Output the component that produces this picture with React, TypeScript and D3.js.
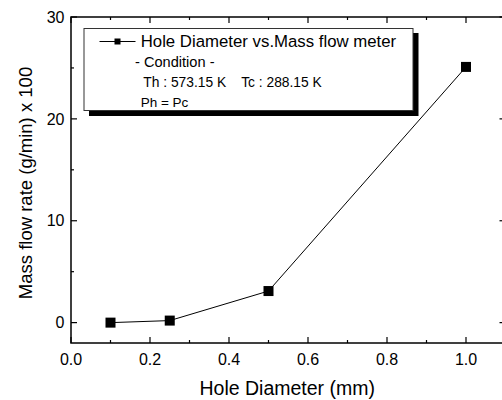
import React from "react";
import * as d3 from "d3";

// Measured data: hole diameter (mm) vs mass flow rate (g/min x 100)
const holeDiameter = [0.1, 0.25, 0.5, 1.0];
const massFlow = [0.0, 0.2, 3.1, 25.1];

const xMajorTicks = [0.0, 0.2, 0.4, 0.6, 0.8, 1.0];
const xMinorTicks = [0.1, 0.3, 0.5, 0.7, 0.9];
const yMajorTicks = [0, 10, 20, 30];
const yMinorTicks = [5, 15, 25];

const seriesLabel = "Hole Diameter vs.Mass flow meter";
const conditionLines = ["- Condition -", "Th : 573.15 K    Tc : 288.15 K", "Ph = Pc"];
const xTitle = "Hole Diameter (mm)";
const yTitle = "Mass flow rate (g/min) x 100";

const W = 502;
const H = 400;
const FONT = "'Liberation Sans', Arial, Helvetica, sans-serif";

export default function App() {
  const x = d3.scaleLinear().domain([0, 1.1]).range([71, 505.5]);
  const y = d3.scaleLinear().domain([-2, 30]).range([343, 17]);
  const [x0, x1] = x.range();
  const [yb, yt] = y.range();

  const line = d3
    .line<number>()
    .x((_, i) => x(holeDiameter[i]))
    .y((d) => y(d));

  const major = 6;
  const minor = 3;
  const ms = 10;

  return (
    <svg
      width={W}
      height={H}
      style={{ position: "absolute", left: 0, top: 0, background: "#fff" }}
      fontFamily={FONT}
    >
      <rect x={0} y={0} width={W} height={H} fill="#fff" />

      {/* frame */}
      <rect
        x={x0}
        y={yt}
        width={x1 - x0}
        height={yb - yt}
        fill="none"
        stroke="#000"
        strokeWidth={1.5}
      />

      {/* bottom & top ticks (inward) */}
      {xMajorTicks.map((t) => (
        <g key={"xM" + t}>
          <line x1={x(t)} x2={x(t)} y1={yb} y2={yb - major} stroke="#000" strokeWidth={1.2} />
          <line x1={x(t)} x2={x(t)} y1={yt} y2={yt + major} stroke="#000" strokeWidth={1.2} />
          <text x={x(t)} y={365} fontSize={16} textAnchor="middle" fill="#000">
            {d3.format(".1f")(t)}
          </text>
        </g>
      ))}
      {xMinorTicks.map((t) => (
        <g key={"xm" + t}>
          <line x1={x(t)} x2={x(t)} y1={yb} y2={yb - minor} stroke="#000" strokeWidth={1.2} />
          <line x1={x(t)} x2={x(t)} y1={yt} y2={yt + minor} stroke="#000" strokeWidth={1.2} />
        </g>
      ))}

      {/* left & right ticks (inward) */}
      {yMajorTicks.map((t) => (
        <g key={"yM" + t}>
          <line x1={x0} x2={x0 + major} y1={y(t)} y2={y(t)} stroke="#000" strokeWidth={1.2} />
          <line x1={x1} x2={x1 - major} y1={y(t)} y2={y(t)} stroke="#000" strokeWidth={1.2} />
          <text x={64.5} y={y(t) + 5.7} fontSize={16} textAnchor="end" fill="#000">
            {t}
          </text>
        </g>
      ))}
      {yMinorTicks.map((t) => (
        <g key={"ym" + t}>
          <line x1={x0} x2={x0 + minor} y1={y(t)} y2={y(t)} stroke="#000" strokeWidth={1.2} />
          <line x1={x1} x2={x1 - minor} y1={y(t)} y2={y(t)} stroke="#000" strokeWidth={1.2} />
        </g>
      ))}

      {/* axis titles */}
      <text x={(x0 + x1) / 2 - 1} y={395} fontSize={19.5} textAnchor="middle" fill="#000">
        {xTitle}
      </text>
      <text
        transform={`translate(32, ${(yb + yt) / 2 + 3}) rotate(-90)`}
        fontSize={18.5}
        textAnchor="middle"
        fill="#000"
      >
        {yTitle}
      </text>

      {/* series */}
      <path d={line(massFlow) ?? ""} fill="none" stroke="#000" strokeWidth={1} />
      {massFlow.map((v, i) => (
        <rect
          key={"p" + i}
          x={x(holeDiameter[i]) - ms / 2}
          y={y(v) - ms / 2}
          width={ms}
          height={ms}
          fill="#000"
        />
      ))}

      {/* legend with drop shadow */}
      <rect x={89} y={33} width={329.5} height={83} fill="#000" />
      <rect x={84} y={28.5} width={329} height={82} fill="#fff" stroke="#333" strokeWidth={1} />
      <line x1={99.5} x2={135.5} y1={41.5} y2={41.5} stroke="#000" strokeWidth={1} />
      <rect x={114.5} y={38.5} width={6} height={6} fill="#000" />
      <text x={140.7} y={47} fontSize={16.8} fill="#000">
        {seriesLabel}
      </text>
      <text x={135} y={67.3} fontSize={14.6} fill="#000">
        {conditionLines[0]}
      </text>
      <text x={143.3} y={86.7} fontSize={13.8} fill="#000" style={{ whiteSpace: "pre" }}>
        {conditionLines[1]}
      </text>
      <text x={140.7} y={107} fontSize={13.5} fill="#000">
        {conditionLines[2]}
      </text>
    </svg>
  );
}
